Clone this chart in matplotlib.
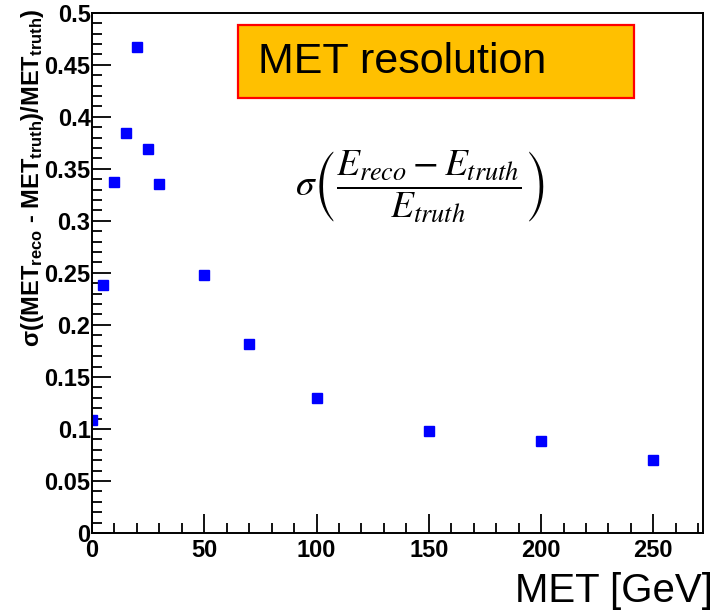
import matplotlib
matplotlib.use('Agg')
import matplotlib.pyplot as plt
from matplotlib.patches import Rectangle
from matplotlib.ticker import MultipleLocator

met = [0, 5, 10, 15, 20, 25, 30, 50, 70, 100, 150, 200, 250]
resolution = [0.109, 0.238, 0.337, 0.384, 0.467, 0.369, 0.335, 0.248, 0.182, 0.130, 0.098, 0.088, 0.070]
ytick_vals = [0, 0.05, 0.1, 0.15, 0.2, 0.25, 0.3, 0.35, 0.4, 0.45, 0.5]
ytick_labels = ['0', '0.05', '0.1', '0.15', '0.2', '0.25', '0.3', '0.35', '0.4', '0.45', '0.5']

plt.rcParams['font.family'] = ['Liberation Sans', 'DejaVu Sans']
plt.rcParams['mathtext.fontset'] = 'custom'
plt.rcParams['mathtext.rm'] = 'Liberation Sans:bold'
plt.rcParams['mathtext.it'] = 'Liberation Sans:bold'
plt.rcParams['mathtext.bf'] = 'Liberation Sans:bold'
plt.rcParams['mathtext.default'] = 'rm'

fig = plt.figure(figsize=(7.16, 6.15), dpi=100)
ax = fig.add_axes([0.1285, 0.1333, 0.853, 0.846])

ax.plot(met, resolution, 's', color='#0000ff', markersize=7, linestyle='none')

ax.set_xlim(0, 272)
ax.set_ylim(0, 0.5)
ax.xaxis.set_major_locator(MultipleLocator(50))
ax.xaxis.set_minor_locator(MultipleLocator(10))
ax.set_yticks(ytick_vals)
ax.set_yticklabels(ytick_labels)
ax.yaxis.set_minor_locator(MultipleLocator(0.01))
ax.tick_params(which='both', direction='in', top=False, right=False, width=1.3)
ax.tick_params(which='major', length=14, labelsize=17)
ax.tick_params(which='minor', length=7)
ax.tick_params(axis='y', pad=1)
ax.tick_params(axis='x', pad=4)
for lab in ax.get_xticklabels() + ax.get_yticklabels():
    lab.set_fontweight('bold')
for s in ax.spines.values():
    s.set_linewidth(1.4)

fig.text(33 / 716, 1 - 178 / 615,
         r'$\sigma$((MET$_{reco}$ - MET$_{truth}$)/MET$_{truth}$)',
         fontsize=17, fontweight='bold', rotation=90, ha='center', va='center')

fig.text(713 / 716, 1 - 602 / 615, 'MET [GeV]', fontsize=29, ha='right', va='baseline')

# title box
fig.patches.append(Rectangle((238 / 716, 1 - 98 / 615), 396 / 716, 73 / 615,
                             transform=fig.transFigure, facecolor='#ffc000',
                             edgecolor='#ff0000', linewidth=1.6, zorder=5))
fig.text(258 / 716, 1 - 62 / 615, 'MET resolution', fontsize=31,
         ha='left', va='center', zorder=6)

fig.text(420 / 716, 1 - 187 / 615,
         r'$\mathit{\sigma}\left(\dfrac{\mathit{E}_{\mathit{reco}}-\mathit{E}_{\mathit{truth}}}{\mathit{E}_{\mathit{truth}}}\right)$',
         fontsize=27, ha='center', va='center', math_fontfamily='stix')

fig.savefig('out.png', dpi=100)
